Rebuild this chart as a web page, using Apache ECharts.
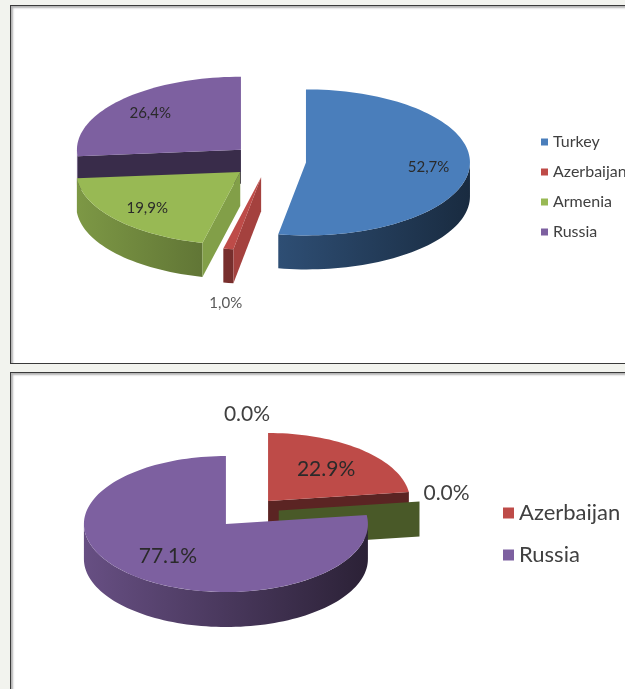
<!DOCTYPE html>
<html>
<head>
<meta charset="utf-8">
<script src="https://cdn.jsdelivr.net/npm/echarts@6/dist/echarts.min.js"></script>
<style>
html,body{margin:0;padding:0;background:#f2f3ee;width:625px;height:689px;overflow:hidden;}
.panel{position:absolute;background:#fff;border:1px solid #3a3a3a;box-shadow:inset 2px 2px 2px rgba(0,0,0,0.3);}
#p1{left:10px;top:5px;width:640px;height:357px;}
#p2{left:10px;top:372px;width:640px;height:340px;}
.chart{position:absolute;left:0;width:625px;}
#c1{top:0;height:363px;}
#c2{top:372px;height:317px;}
</style>
</head>
<body>
<div class="panel" id="p1"></div>
<div class="panel" id="p2"></div>
<div class="chart" id="c1"></div>
<div class="chart" id="c2"></div>
<script>
// ---- data ----
const topCategories = ['Turkey', 'Azerbaijan', 'Armenia', 'Russia'];
const topValues = [52.7, 1.0, 19.9, 26.4];
const bottomCategories = ['Turkey', 'Azerbaijan', 'Armenia', 'Russia'];
const bottomValues = [0.0, 22.9, 0.0, 77.1];
const bottomLegend = ['Azerbaijan', 'Russia'];

// ---- styles ----
const COLORS = { Turkey: '#4a7ebb', Azerbaijan: '#be4b48', Armenia: '#98b954', Russia: '#7d60a0' };
const FONT = 'Lato, "Open Sans", sans-serif';

function shade(hex, f) {
  const n = parseInt(hex.slice(1), 16);
  const r = Math.round(((n >> 16) & 255) * f), g = Math.round(((n >> 8) & 255) * f), b = Math.round((n & 255) * f);
  return 'rgb(' + r + ',' + g + ',' + b + ')';
}

function computeSlices(names, values, geo) {
  const total = values.reduce((s, v) => s + v, 0);
  const k = geo.ry / geo.rx;
  let acc = 0;
  return values.map((v, i) => {
    const a = acc / total * 360; acc += v; const b = acc / total * 360;
    const mid = (a + b) / 2, r = mid * Math.PI / 180;
    return { i, name: names[i], value: v, frac: v / total, a, b, mid,
      cx: geo.cx + Math.sin(r) * geo.explode, cy: geo.cy - Math.cos(r) * geo.explode * k };
  });
}

function sliceGroup(s, geo, color) {
  const D = geo.depth;
  const P = (t, dy) => { const r = t * Math.PI / 180; return [s.cx + geo.rx * Math.sin(r), s.cy - geo.ry * Math.cos(r) + (dy || 0)]; };
  const arc = (t0, t1, dy) => { const n = Math.max(1, Math.ceil((t1 - t0) / 2)); const pts = []; for (let j = 0; j <= n; j++) pts.push(P(t0 + (t1 - t0) * j / n, dy)); return pts; };
  const c = [s.cx, s.cy], cd = [s.cx, s.cy + D];
  const children = [];
  const lo = Math.max(s.a, 90), hi = Math.min(s.b, 270);
  if (hi > lo) {
    children.push({ type: 'polygon', shape: { points: arc(lo, hi, 0).concat(arc(lo, hi, D).reverse()) },
      style: { fill: { type: 'linear', x: s.cx - geo.rx, y: 0, x2: s.cx + geo.rx, y2: 0, global: true,
        colorStops: [{ offset: 0, color: shade(color, 0.82) }, { offset: 1, color: shade(color, 0.34) }] } } });
  }
  const face = (t, nx) => ({ type: 'polygon', shape: { points: [c, P(t, 0), P(t, D), cd] },
    style: { fill: shade(color, 0.42 + 0.45 * Math.max(0, nx)) } });
  const ra = s.a * Math.PI / 180, rb = s.b * Math.PI / 180;
  if (Math.sin(ra) < -0.01) children.push(face(s.a, -Math.cos(ra)));
  if (Math.sin(rb) > 0.01) children.push(face(s.b, Math.cos(rb)));
  if (s.b - s.a > 0.01) children.push({ type: 'polygon', shape: { points: [c].concat(arc(s.a, s.b, 0)) }, style: { fill: color } });
  return { type: 'group', children };
}

function labelEl(s, geo, fmt, lab) {
  const r = s.mid * Math.PI / 180, sn = Math.sin(r), cs = Math.cos(r);
  const text = fmt(s.value);
  if (s.frac >= 0.05) {
    const f = lab.f;
    return { type: 'text', x: s.cx + geo.rx * f * sn, y: s.cy - geo.ry * f * cs,
      style: { text, fill: lab.color, fontSize: lab.size, fontFamily: FONT, align: 'center', verticalAlign: 'middle' } };
  }
  let x = s.cx + geo.rx * sn, y = s.cy - geo.ry * cs + (cs < 0 ? geo.depth : 0);
  x += lab.gap * sn; y -= lab.gap * cs;
  let align = 'center', va = 'middle';
  if (Math.abs(sn) > 0.7) { align = sn > 0 ? 'left' : 'right'; y += lab.sideDy; }
  else va = cs > 0 ? 'bottom' : 'top';
  return { type: 'text', x, y, style: { text, fill: lab.outColor, fontSize: lab.size, fontFamily: FONT, align, verticalAlign: va } };
}

function buildOption(names, values, geo, fmt, lab, legend) {
  const slices = computeSlices(names, values, geo);
  const order = slices.slice().sort((p, q) => p.cy - q.cy).map(s => s.i);
  const series = slices.map(s => ({
    type: 'custom', name: s.name, coordinateSystem: 'none', silent: true,
    z: 2 + order.indexOf(s.i),
    itemStyle: { color: COLORS[s.name] },
    data: [[values[s.i]]],
    renderItem: () => sliceGroup(s, geo, COLORS[s.name])
  }));
  series.push({
    type: 'custom', name: 'labels', coordinateSystem: 'none', silent: true, z: 30,
    data: values.map(v => [v]),
    renderItem: (params) => labelEl(slices[params.dataIndex], geo, fmt, lab)
  });
  return {
    animation: false,
    backgroundColor: 'transparent',
    legend: Object.assign({ orient: 'vertical', icon: 'rect', itemGap: legend.gap, itemWidth: legend.box, itemHeight: legend.box,
      selectedMode: false, textStyle: { fontSize: legend.size, color: '#404040', fontFamily: FONT } }, legend.pos, { data: legend.data }),
    series
  };
}

const topGeo = { cx: 268.6, cy: 161, rx: 164, ry: 73, depth: 34, explode: 37.5 };
const botGeo = { cx: 247, cy: 140.5, rx: 142, ry: 68, depth: 35, explode: 32 };

const c1 = echarts.init(document.getElementById('c1'), null, { renderer: 'canvas' });
c1.setOption(buildOption(topCategories, topValues, topGeo,
  v => v.toFixed(1).replace('.', ',') + '%',
  { size: 15, color: '#2a2a2a', outColor: '#595959', gap: 13, sideDy: 0, f: 0.75 },
  { data: topCategories, pos: { left: 536, top: 129 }, box: 7, gap: 14, size: 16 }));

const c2 = echarts.init(document.getElementById('c2'), null, { renderer: 'canvas' });
c2.setOption(buildOption(bottomCategories, bottomValues, botGeo,
  v => v.toFixed(1) + '%',
  { size: 21, color: '#2a2a2a', outColor: '#404040', gap: 4, sideDy: -8, f: 0.62 },
  { data: bottomLegend, pos: { left: 498, top: 125 }, box: 11, gap: 20, size: 22 }));
</script>
</body>
</html>
